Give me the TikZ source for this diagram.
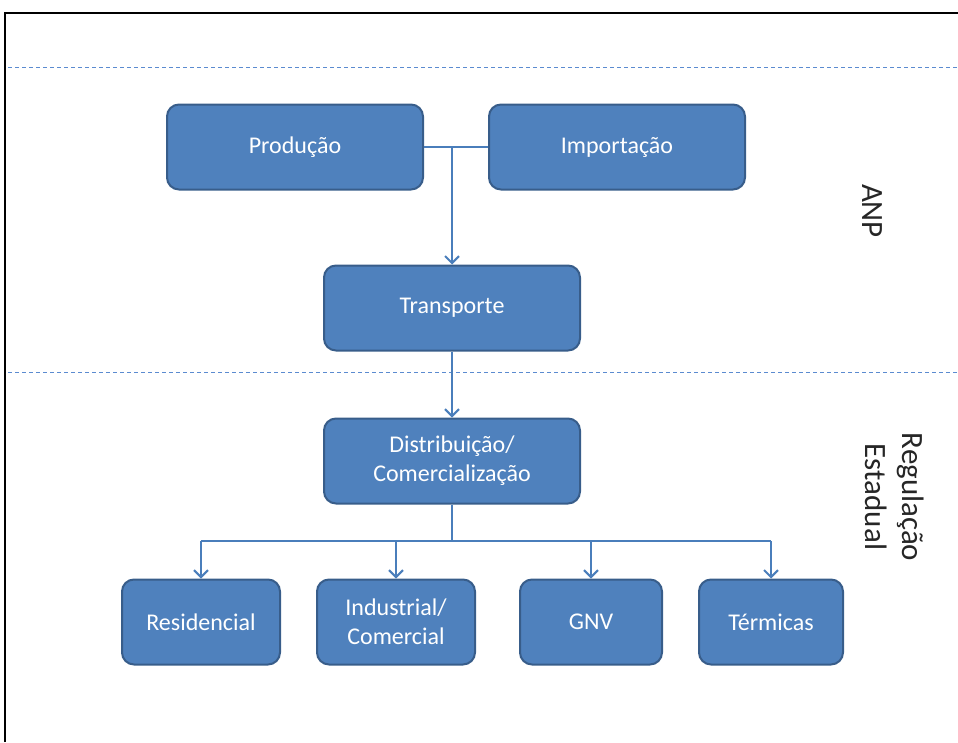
\documentclass[tikz,border=0pt]{standalone}
\usepackage{fontspec}
\setmainfont{Carlito}
\usetikzlibrary{arrows.meta}
\definecolor{boxfill}{HTML}{4F81BD}
\definecolor{boxdraw}{HTML}{385D8A}
\definecolor{linec}{HTML}{4A7EBB}
\definecolor{dashc}{HTML}{5B8BD0}
\tikzset{
  box/.style={draw=boxdraw, fill=boxfill, line width=2pt, rounded corners=12pt,
    text=white, font=\fontsize{24}{29}\selectfont, align=center, inner sep=0pt},
  conn/.style={draw=linec, line width=2pt},
  arr/.style={conn, -{Straight Barb[length=7pt,width=14pt,line width=2pt]}},
  sep/.style={draw=dashc, line width=1pt, dash pattern=on 4pt off 3pt},
  side/.style={font=\fontsize{31}{37}\selectfont, rotate=-90, align=center, text=black!85}
}
\begin{document}
\begin{tikzpicture}[x=1pt,y=-1pt]
\useasboundingbox (0,0) rectangle (958,742);
\draw[black, line width=2pt] (5,742) -- (5,12.5) -- (958,12.5);
\coordinate (d1a) at (8,67); \coordinate (d1b) at (958,67);
\coordinate (d2a) at (8,372); \coordinate (d2b) at (958,372);
\draw[sep] (d1a) -- (d1b);
\draw[sep] (d2a) -- (d2b);
\node[box, minimum width=256pt, minimum height=85pt] (prod) at (295,147) {Produção};
\node[box, minimum width=256pt, minimum height=85pt] (imp) at (617,147) {Importação};
\node[box, minimum width=256pt, minimum height=85pt] (trans) at (452,308) {Transporte};
\node[box, minimum width=256pt, minimum height=85pt] (dist) at (452,461) {Distribuição/\\Comercialização};
\node[box, minimum width=158pt, minimum height=85pt] (res) at (201,622) {Residencial};
\node[box, minimum width=158pt, minimum height=85pt] (ind) at (396,622) {Industrial/\\Comercial};
\node[box, minimum width=142pt, minimum height=85pt] (gnv) at (591,622) {GNV};
\node[box, minimum width=144pt, minimum height=85pt] (ter) at (771,622) {Térmicas};
\node[side] (anp) at (872,211) {ANP};
\node[side] (reg) at (895,497) {Regulação\\Estadual};
\coordinate (j1) at (trans.north |- prod.east);
\draw[conn] (prod.east) -- (imp.west);
\draw[arr] (j1) -- (trans.north);
\draw[arr] (trans.south) -- (dist.north);
\coordinate (j2) at (452,541);
\draw[conn] (dist.south) -- (j2);
\draw[conn] (res.north |- j2) -- (ter.north |- j2);
\draw[arr] (res.north |- j2) -- (res.north);
\draw[arr] (ind.north |- j2) -- (ind.north);
\draw[arr] (gnv.north |- j2) -- (gnv.north);
\draw[arr] (ter.north |- j2) -- (ter.north);
\end{tikzpicture}
\end{document}
